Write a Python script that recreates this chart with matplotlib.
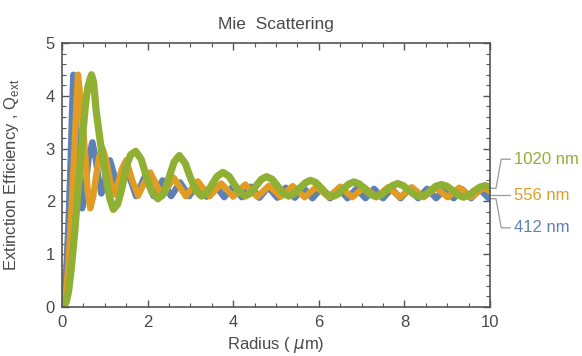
import numpy as np
import matplotlib.pyplot as plt
from matplotlib.ticker import MultipleLocator

# --- data (radius in um, extinction efficiency) ---
r_412 = [0, 0.04, 0.08, 0.12, 0.16, 0.2, 0.235, 0.265, 0.3, 0.34, 0.38, 0.42, 0.47,
         0.52, 0.57, 0.62, 0.71, 0.78, 0.85, 0.92, 1.02, 1.12, 1.22, 1.32, 1.42, 1.53,
         1.73, 1.94, 2.14, 2.35, 2.55, 2.76, 2.97, 3.17, 3.38, 3.58, 3.79, 4.0, 4.2,
         4.41, 4.61, 4.82, 5.03, 5.23, 5.44, 5.64, 5.85, 6.06, 6.26, 6.47, 6.67, 6.88,
         7.09, 7.29, 7.5, 7.7, 7.91, 8.12, 8.32, 8.53, 8.74, 8.94, 9.15, 9.35, 9.56,
         9.76, 9.97, 10.0]
q_412 = [0, 0.08, 0.4, 1.0, 1.75, 2.7, 3.7, 4.4, 4.1, 3.35, 2.7, 2.3, 1.87,
         2.05, 2.45, 2.8, 3.12, 2.85, 2.45, 2.15, 2.45, 2.78, 2.5, 2.12, 2.35, 2.58,
         2.1, 2.48, 2.1, 2.4, 2.1, 2.36, 2.1, 2.33, 2.09, 2.31, 2.08, 2.29, 2.08,
         2.28, 2.07, 2.27, 2.07, 2.26, 2.07, 2.26, 2.06, 2.25, 2.06, 2.25, 2.06, 2.24,
         2.06, 2.24, 2.06, 2.24, 2.06, 2.24, 2.06, 2.24, 2.06, 2.23, 2.06, 2.23, 2.06,
         2.23, 2.06, 2.07]

r_556 = [0, 0.05, 0.1, 0.15, 0.2, 0.25, 0.3, 0.34, 0.375, 0.41, 0.46, 0.5, 0.54, 0.6,
         0.66, 0.73, 0.8, 0.87, 0.95, 1.04, 1.13, 1.22, 1.31, 1.4, 1.5, 1.64, 1.78,
         1.92, 2.06, 2.34, 2.61, 2.89, 3.17, 3.45, 3.72, 4.0, 4.28, 4.56, 4.84, 5.11,
         5.39, 5.67, 5.95, 6.23, 6.5, 6.78, 7.06, 7.34, 7.62, 7.9, 8.17, 8.45, 8.73,
         9.01, 9.28, 9.56, 9.84, 10.0]
q_556 = [0, 0.07, 0.3, 0.8, 1.5, 2.3, 3.15, 3.9, 4.4, 4.12, 3.7, 3.3, 2.9, 2.2,
         1.87, 2.1, 2.5, 2.85, 3.0, 2.75, 2.35, 2.13, 2.35, 2.62, 2.78, 2.4, 2.11,
         2.35, 2.55, 2.1, 2.45, 2.1, 2.38, 2.1, 2.34, 2.09, 2.32, 2.09, 2.3, 2.09,
         2.29, 2.08, 2.28, 2.08, 2.28, 2.08, 2.27, 2.08, 2.27, 2.08, 2.27, 2.08, 2.26,
         2.08, 2.26, 2.08, 2.26, 2.2]

r_1020 = [0, 0.05, 0.1, 0.15, 0.2, 0.25, 0.3, 0.35, 0.4, 0.45, 0.5, 0.55, 0.6, 0.65,
          0.69, 0.74, 0.8, 0.9, 0.97, 1.05, 1.12, 1.2, 1.3, 1.4, 1.5, 1.6, 1.72, 1.85,
          1.98, 2.1, 2.24, 2.38, 2.5, 2.62, 2.74, 2.88, 3.0, 3.13, 3.26, 3.4, 3.51,
          3.63, 3.76, 3.9, 4.02, 4.15, 4.28, 4.41, 4.53, 4.66, 4.78, 4.91, 5.04, 5.17,
          5.3, 5.43, 5.55, 5.68, 5.8, 5.93, 6.06, 6.19, 6.32, 6.45, 6.57, 6.7, 6.82,
          6.95, 7.08, 7.21, 7.34, 7.47, 7.59, 7.72, 7.84, 7.97, 8.1, 8.23, 8.36, 8.49,
          8.61, 8.74, 8.86, 8.99, 9.12, 9.25, 9.38, 9.51, 9.63, 9.76, 9.88, 10.0]
q_1020 = [0, 0.02, 0.1, 0.28, 0.6, 1.0, 1.45, 1.95, 2.45, 2.95, 3.4, 3.85, 4.15, 4.3,
          4.4, 4.25, 3.7, 3.1, 2.75, 2.35, 2.05, 1.85, 1.95, 2.25, 2.65, 2.88, 2.95, 2.8,
          2.45, 2.18, 2.05, 2.15, 2.45, 2.75, 2.87, 2.72, 2.45, 2.2, 2.1, 2.18, 2.33,
          2.48, 2.55, 2.48, 2.33, 2.18, 2.1, 2.16, 2.29, 2.42, 2.47, 2.42, 2.29, 2.16,
          2.1, 2.15, 2.25, 2.35, 2.4, 2.36, 2.25, 2.14, 2.09, 2.14, 2.24, 2.33, 2.37,
          2.33, 2.23, 2.13, 2.09, 2.13, 2.22, 2.3, 2.34, 2.3, 2.21, 2.13, 2.09, 2.13,
          2.21, 2.29, 2.32, 2.29, 2.21, 2.12, 2.08, 2.12, 2.2, 2.27, 2.3, 2.27]

labels = ["412 nm", "556 nm", "1020 nm"]
colors = ["#5E81B5", "#E19C24", "#8FB032"]

# --- figure ---
plt.rcParams['font.family'] = ['Liberation Sans', 'DejaVu Sans']
frame_col = '#555555'
text_col = '#4a4a4a'
fs = 12

fig = plt.figure(figsize=(5.82, 3.56), dpi=100)
ax = fig.add_axes([0.1065, 0.1376, 0.7355, 0.7414])

ax.plot(r_412, q_412, color=colors[0], lw=4.6, solid_joinstyle='round')
ax.plot(r_556, q_556, color=colors[1], lw=4.6, solid_joinstyle='round')
ax.plot(r_1020, q_1020, color=colors[2], lw=5.2, solid_joinstyle='round')

ax.set_xlim(0, 10)
ax.set_ylim(0, 5)
ax.xaxis.set_major_locator(MultipleLocator(2))
ax.xaxis.set_minor_locator(MultipleLocator(0.5))
ax.yaxis.set_major_locator(MultipleLocator(1))
ax.yaxis.set_minor_locator(MultipleLocator(0.2))
ax.tick_params(which='both', direction='in', top=True, right=True,
               color=frame_col, labelcolor=text_col, labelsize=fs)
ax.tick_params(which='major', length=5, width=1)
ax.tick_params(which='minor', length=3, width=0.8)
ax.tick_params(axis='x', pad=6)
ax.tick_params(axis='y', pad=5)
for s in ax.spines.values():
    s.set_color(frame_col)
    s.set_linewidth(1.2)

ax.set_title("Mie  Scattering", fontsize=fs + 0.5, color=text_col, pad=10)
ax.set_xlabel("Radius ( $\\mu$m)", fontsize=fs, color=text_col, labelpad=3)
ax.set_ylabel("Extinction Efficiency , Q$_{\\mathregular{ext}}$", fontsize=fs,
              color=text_col)
ax.yaxis.set_label_coords(-0.095, 0.5)

# callout labels at the right edge
callouts = [
    ([10.0, 10.14, 10.26, 10.47], [2.25, 2.25, 2.8, 2.8], 2.8),
    ([10.0, 10.47], [2.12, 2.12], 2.12),
    ([10.0, 10.14, 10.26, 10.47], [2.05, 2.05, 1.5, 1.5], 1.5),
]
order = [2, 1, 0]
for (xs, ys, ty), i in zip(callouts, order):
    ax.plot(xs, ys, color='#9a9a9a', lw=0.9, clip_on=False)
    ax.text(10.56, ty, labels[i], color=colors[i], fontsize=fs,
            va='center', ha='left', clip_on=False)

fig.savefig("out.png", dpi=100)
